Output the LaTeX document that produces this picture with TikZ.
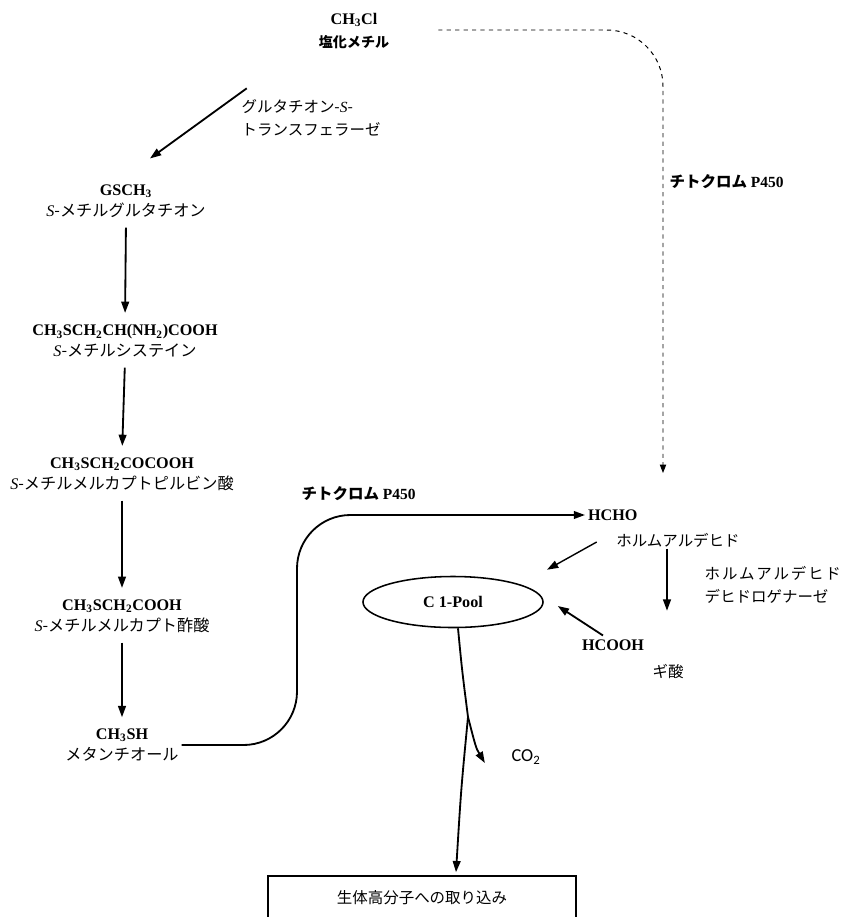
\documentclass[tikz,border=0pt]{standalone}
\usepackage{fontspec}
\setmainfont{Liberation Serif}
\newfontfamily\jp{Noto Sans CJK JP}
\newfontfamily\jpw[LetterSpace=12]{Noto Sans CJK JP}
\newfontfamily\cbr{Carlito}
\usepackage{tikz}
\usetikzlibrary{calc,positioning,shapes.geometric,arrows.meta}

\newcommand{\frm}[1]{\textbf{#1}}
\newcommand{\sS}{{\rmfamily\itshape S}-}

\tikzset{
    cmpd/.style={align=center,inner sep=2pt,font=\fontsize{11.5}{15}\selectfont},
    enz/.style={align=left,inner sep=1pt,font=\fontsize{11}{16}\selectfont\jp},
    cyp/.style={inner sep=1pt,font=\fontsize{11}{13}\selectfont\bfseries},
    pathway/.style={line width=1.3pt,-{Triangle[length=8pt,width=5.5pt]}},
    dashpath/.style={line width=0.7pt,dashed,-{Triangle[length=6pt,width=4.5pt]}}
}

\begin{document}
\begin{tikzpicture}[x=0.025cm,y=-0.025cm]
        \useasboundingbox (0,0) rectangle (845,917);

        % methyl chloride and the glutathione route
        \node[cmpd] (ch3cl) at (354,31)
            {\frm{CH\textsubscript{3}Cl}\\[2pt]{\jp\bfseries\fontsize{10}{12}\selectfont 塩化メチル}};
        \node[enz,anchor=west] (gst) at (240,118) {グルタチオン-{\rmfamily\itshape S}-\\トランスフェラーゼ};
        \node[cmpd] (gsch3) at (126,201) {\frm{GSCH\textsubscript{3}}\\{\jp\sS メチルグルタチオン}};
        \node[cmpd] (mecys) at (125,341) {\frm{CH\textsubscript{3}SCH\textsubscript{2}CH(NH\textsubscript{2})COOH}\\{\jp\sS メチルシステイン}};
        \node[cmpd] (mpyr) at (122,474) {\frm{CH\textsubscript{3}SCH\textsubscript{2}COCOOH}\\{\jp\sS メチルメルカプトピルビン酸}};
        \node[cmpd] (macet) at (122,616) {\frm{CH\textsubscript{3}SCH\textsubscript{2}COOH}\\{\jp\sS メチルメルカプト酢酸}};
        \node[cmpd] (msh) at (122,745) {\frm{CH\textsubscript{3}SH}\\{\jp メタンチオール}};

        \draw[pathway] ($(ch3cl.south west)+(-69,36)$) -- ($(gsch3.north)+(24,-23)$);
        \draw[pathway,shorten <=5pt,shorten >=6pt] (gsch3.south) -- (mecys.north);
        \draw[pathway,shorten <=5pt,shorten >=6pt] (mecys.south) -- (mpyr.north);
        \draw[pathway,shorten <=5pt,shorten >=6pt] (mpyr.south) -- (macet.north);
        \draw[pathway,shorten <=5pt,shorten >=6pt] (macet.south) -- (msh.north);

        % formaldehyde and formic acid
        \node[cmpd,anchor=west] (hcho) at (585,515) {\frm{HCHO}};
        \node[enz] (hchoname) at (678,540) {ホルムアルデヒド};
        \node[enz,anchor=west] (fdh) at (703,585) {{\jpw ホルムアルデヒド}\\デヒドロゲナーゼ};
        \node[cmpd] (hcooh) at (613,645) {\frm{HCOOH}};
        \node[enz] (formic) at (668,672) {ギ酸};
        \node[ellipse,draw,line width=1.1pt,minimum width=4.5cm,minimum height=1.275cm,
            inner sep=0pt,font=\fontsize{11.5}{14}\selectfont\bfseries] (pool) at (453,602) {C 1-Pool};
        \node[inner sep=1pt,font=\fontsize{13}{15}\selectfont\cbr] (co2) at (526,757) {CO\textsubscript{2}};
        \node[draw,line width=1.1pt,minimum width=7.7cm,minimum height=1.1cm,
            font=\fontsize{11}{14}\selectfont\jp] (box) at (422,898) {生体高分子への取り込み};

        % cytochrome P450 routes
        \coordinate (p450a) at (663,473);
        \node[cyp,anchor=west] (cypa) at (668,182) {{\jp チトクロム} P450};
        \node[cyp,anchor=west] (cypb) at (300,494) {{\jp チトクロム} P450};
        \draw[dashpath,rounded corners=40pt] ($(ch3cl.east)+(46,-1)$) -| (p450a);
        \draw[pathway,rounded corners=38pt] (msh.east) -| ($(hcho.west)+(-288,0)$) -- (hcho.west);

        \draw[pathway,line width=1pt] ($(hchoname.west)+(-18,2)$) -- ($(pool.north)+(94,-6)$);
        \draw[pathway] ($(hchoname.south)+(-11,0)$) -- ($(hchoname.south)+(-11,62)$);
        \draw[pathway] ($(hcooh.north)+(-10,-1)$) -- ($(pool.east)+(14,4)$);

        % out of the C1 pool
        \coordinate (split) at (468,717);
        \draw[line width=1.3pt] ($(pool.south)+(5,0)$) .. controls (462,670) .. (split);
        \draw[pathway] (split) .. controls (476,748) .. ($(co2.west)+(-25,6)$);
        \draw[pathway] (split) .. controls (461,790) .. ($(box.north)+(34,-3)$);
    \end{tikzpicture}
\end{document}
